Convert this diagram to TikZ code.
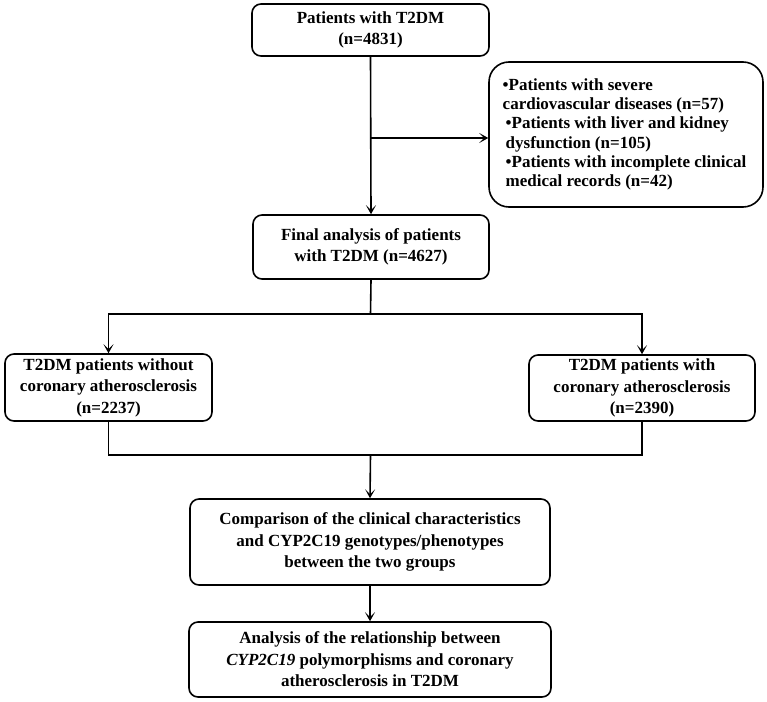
\documentclass[tikz,border=0pt]{standalone}
\usepackage{fontspec}
\setmainfont{Liberation Serif}
\usetikzlibrary{arrows.meta}
\begin{document}
\begin{tikzpicture}[x=1pt,y=-1pt,
  box/.style={draw,line width=1.6pt,rounded corners=9pt,align=center,inner sep=0pt,
    font=\bfseries\fontsize{17}{21.5}\selectfont},
  conn/.style={line width=1.6pt},
  arr/.style={line width=1.6pt,-{Stealth[length=9pt,width=10pt,inset=5pt]}}]
\useasboundingbox (0,0) rectangle (767,701);
\node[box,minimum width=237pt,minimum height=52pt] (b1) at (370.5,30) {Patients with T2DM\\(n=4831)};
\node[box,minimum width=274pt,minimum height=145pt,rounded corners=20pt,align=left,
  font=\bfseries\fontsize{17}{19.3}\selectfont] (ex) at (626,134.5)
  {\hspace*{-3pt}•Patients with severe\\\hspace*{-3pt}cardiovascular diseases (n=57)\\
   •Patients with liver and kidney\\dysfunction (n=105)\\
   •Patients with incomplete clinical\\medical records (n=42)};
\node[box,minimum width=236pt,minimum height=64pt] (b2) at (371,247) {Final analysis of patients\\with T2DM (n=4627)};
\node[box,minimum width=207pt,minimum height=67pt] (l) at (108.5,387.5) {T2DM patients without\\coronary atherosclerosis\\(n=2237)};
\node[box,minimum width=226pt,minimum height=66pt] (r) at (642,388) {T2DM patients with\\coronary atherosclerosis\\(n=2390)};
\node[box,minimum width=360pt,minimum height=86pt] (b4) at (370,542) {Comparison of the clinical characteristics\\and CYP2C19 genotypes/phenotypes\\between the two groups};
\node[box,minimum width=362pt,minimum height=75pt] (b5) at (370,659.5) {Analysis of the relationship between\\\textit{CYP2C19} polymorphisms and coronary\\atherosclerosis in T2DM};
\coordinate (s1) at (370.5,138);
\coordinate (s2) at (370.5,314);
\coordinate (s3) at (370.5,455);
\draw[arr] (b1.south) -- (b2.north);
\draw[arr] (s1) -- (s1 -| ex.west);
\draw[conn] (b2.south) -- (s2);
\draw[arr] (s2) -| (l.north);
\draw[arr] (s2) -| (r.north);
\draw[conn] (l.south) |- (s3) -| (r.south);
\draw[arr] (s3) -- (b4.north);
\draw[arr] (b4.south) -- (b5.north);
\end{tikzpicture}
\end{document}
